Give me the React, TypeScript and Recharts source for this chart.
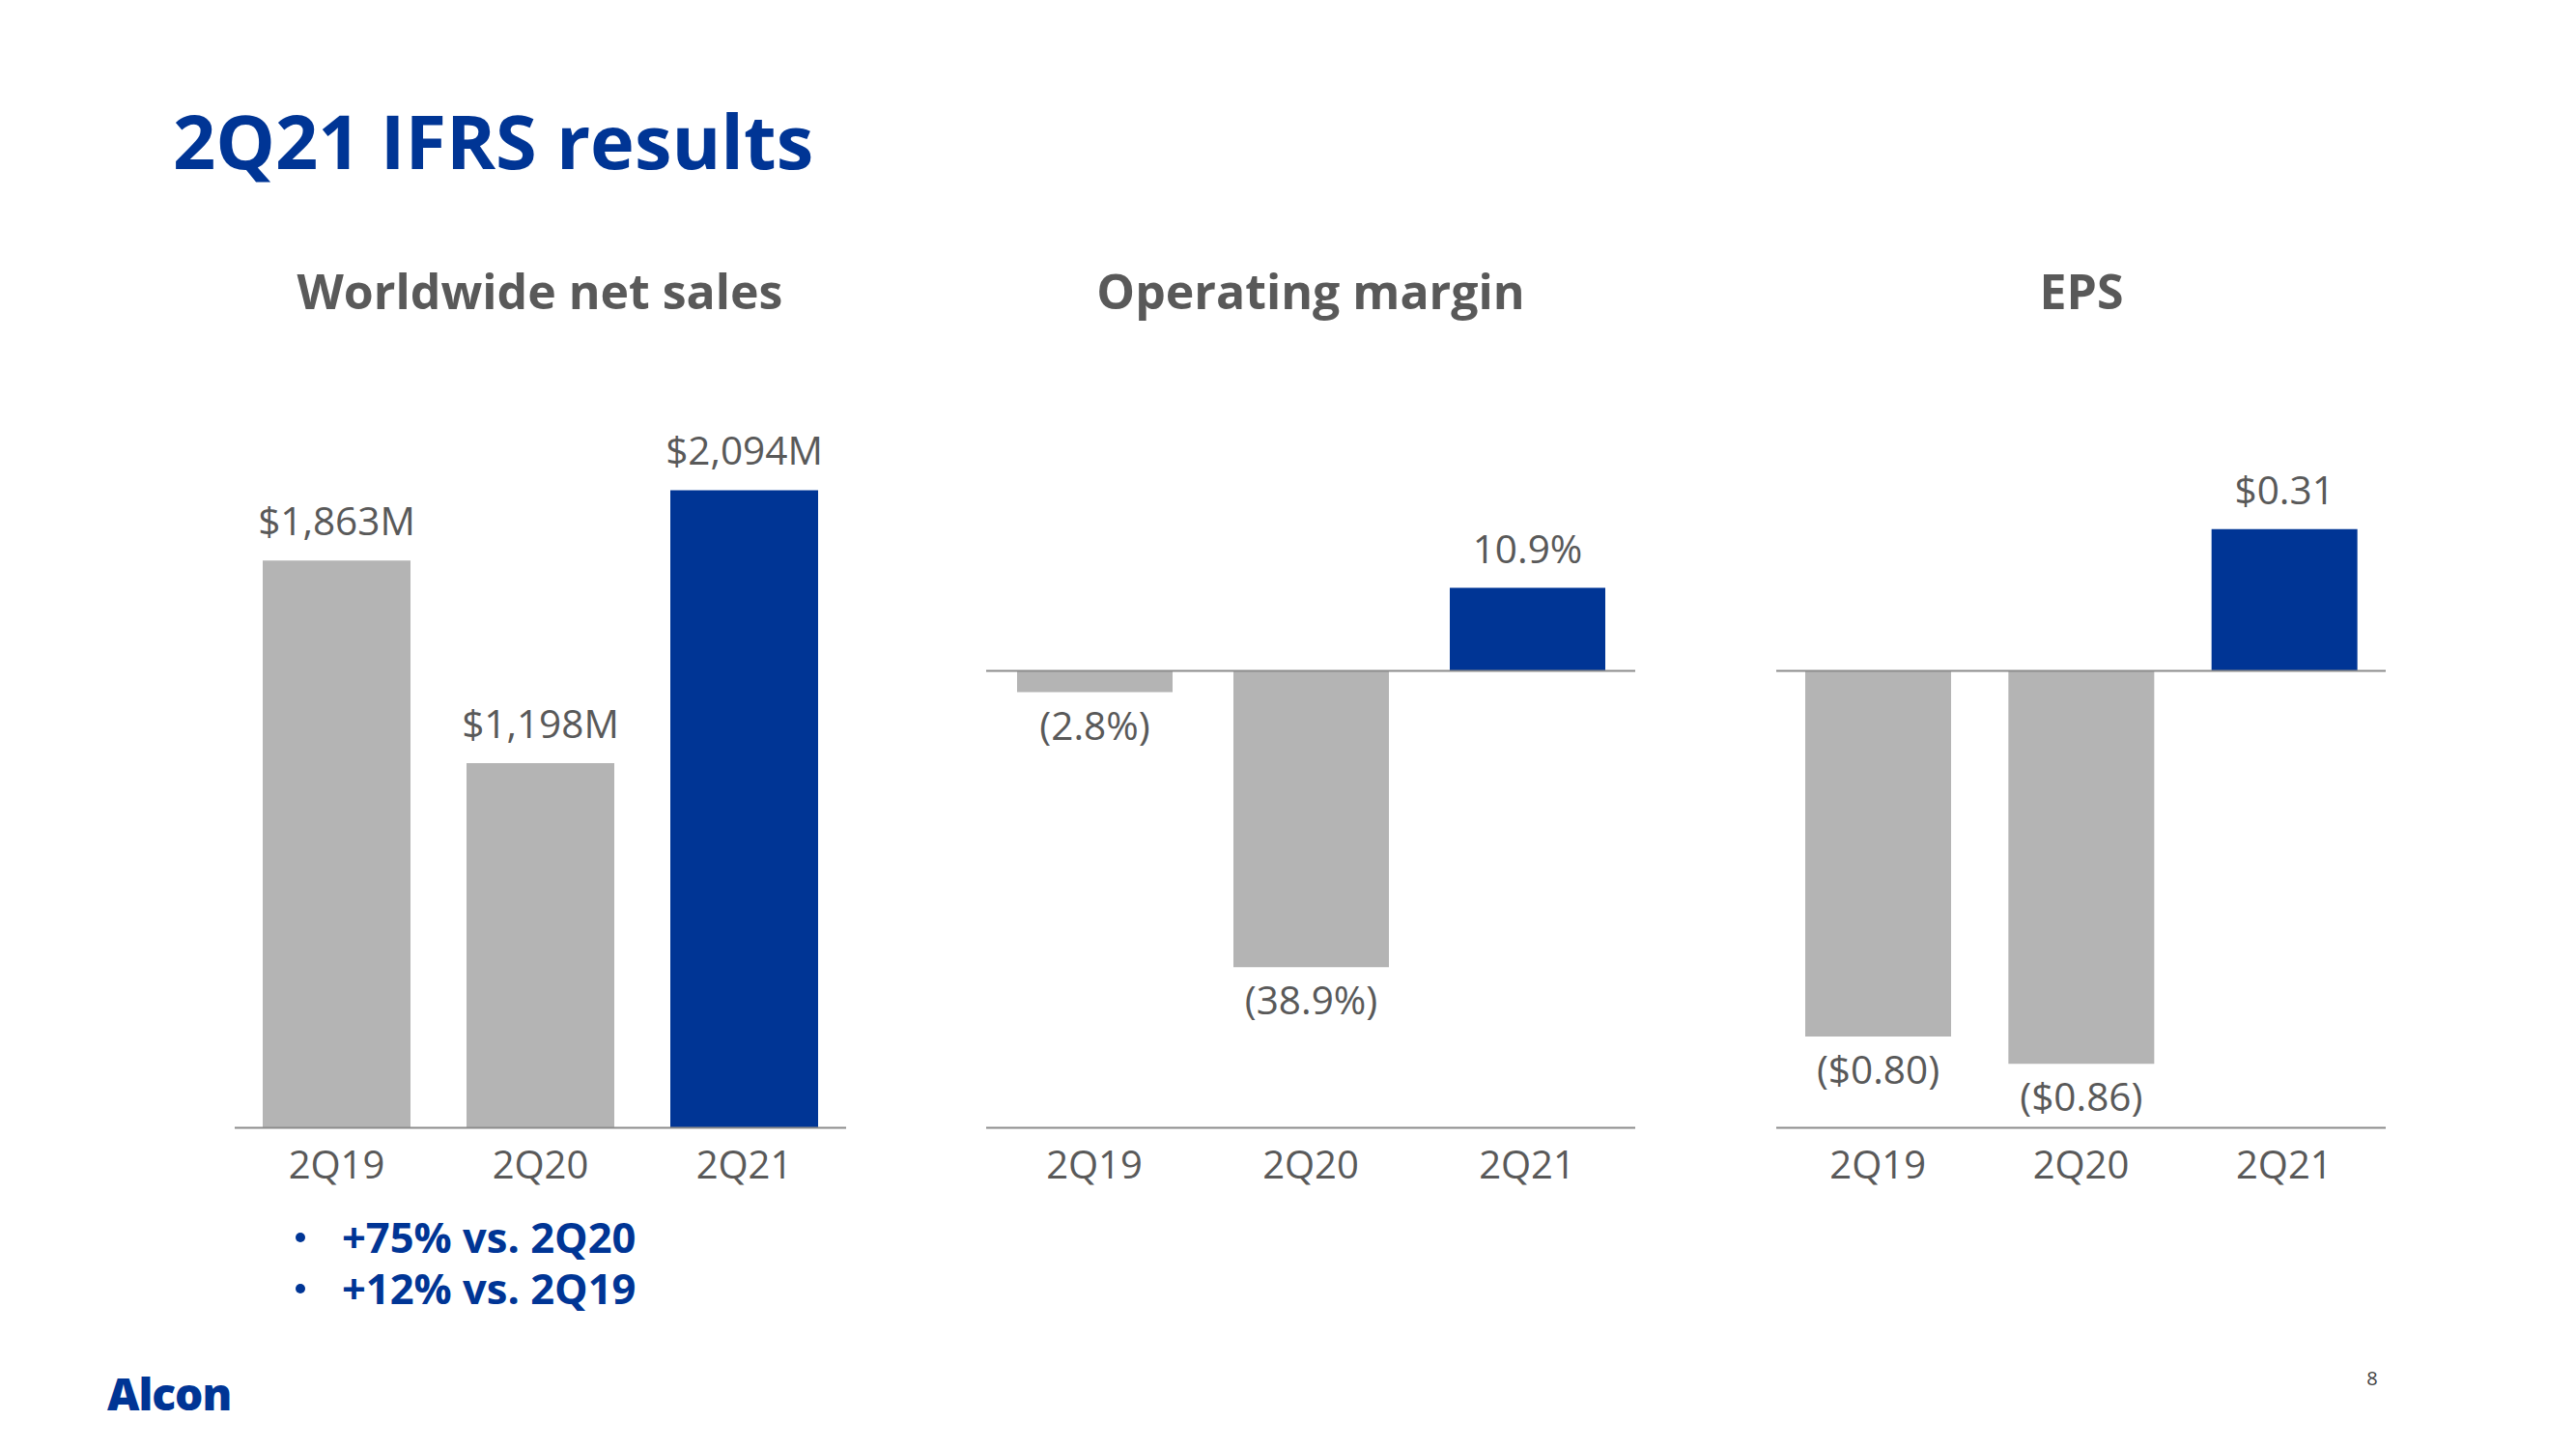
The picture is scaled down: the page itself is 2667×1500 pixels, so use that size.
import { BarChart, Bar, XAxis, YAxis, Cell, LabelList, ReferenceLine } from 'recharts'

// values
const QUARTERS = ['2Q19', '2Q20', '2Q21']
const NET_SALES = [1863, 1198, 2094] // $M
const OP_MARGIN = [-2.8, -38.9, 10.9] // %
const EPS = [-0.8, -0.86, 0.31] // $
const BULLETS = ['+75% vs. 2Q20', '+12% vs. 2Q19']

const BLUE = '#003595'
const GREY_BAR = '#b4b4b4'
const TEXT = '#595959'
const AXIS = '#8c8c8c'
const FONT = '"Open Sans", "Noto Sans", sans-serif'

// all three panels share the same bottom axis line
const PLOT_BOTTOM = 1167
const MARGIN_TOP = 100
const AXIS_H = 90

const fmtSales = (v: number) => `$${v.toLocaleString('en-US')}M`
const fmtMargin = (v: number) => (v < 0 ? `(${Math.abs(v).toFixed(1)}%)` : `${v.toFixed(1)}%`)
const fmtEps = (v: number) => (v < 0 ? `($${Math.abs(v).toFixed(2)})` : `$${v.toFixed(2)}`)

function QuarterTick(props: any) {
  const { x, y, payload } = props
  return (
    <text x={x} y={y + 52} textAnchor="middle" fill={TEXT} fontSize={40} fontFamily={FONT}>
      {payload.value}
    </text>
  )
}

function ValueLabel(props: any) {
  const { x, y, width, height, value, format } = props
  const top = Math.min(y, y + height)
  const bottom = Math.max(y, y + height)
  const ty = value < 0 ? bottom + 49 : top - 26
  return (
    <text x={x + width / 2} y={ty} textAnchor="middle" fill={TEXT} fontSize={40.5} fontFamily={FONT}>
      {format(value)}
    </text>
  )
}

interface PanelProps {
  values: number[]
  domain: [number, number]
  left: number
  width: number
  plotHeight: number
  barSize: number
  format: (v: number) => string
  zeroLine?: boolean
}

function Panel({ values, domain, left, width, plotHeight, barSize, format, zeroLine }: PanelProps) {
  const data = QUARTERS.map((q, i) => ({ quarter: q, value: values[i] }))
  const top = PLOT_BOTTOM - plotHeight - MARGIN_TOP
  return (
    <div style={{ position: 'absolute', left, top }}>
      <BarChart
        width={width}
        height={MARGIN_TOP + plotHeight + AXIS_H}
        data={data}
        margin={{ top: MARGIN_TOP, right: 0, bottom: 0, left: 0 }}
      >
        <XAxis
          dataKey="quarter"
          height={AXIS_H}
          interval={0}
          tickLine={false}
          tickSize={0}
          tickMargin={0}
          axisLine={{ stroke: AXIS, strokeWidth: 2 }}
          tick={QuarterTick}
        />
        <YAxis hide type="number" domain={domain} allowDataOverflow />
        <Bar dataKey="value" barSize={barSize} isAnimationActive={false}>
          {data.map((d, i) => (
            <Cell key={d.quarter} fill={i === data.length - 1 ? BLUE : GREY_BAR} />
          ))}
          <LabelList dataKey="value" content={(p: any) => <ValueLabel {...p} format={format} />} />
        </Bar>
        {zeroLine && <ReferenceLine y={0} stroke={AXIS} strokeWidth={2} />}
      </BarChart>
    </div>
  )
}

export default function App() {
  return (
    <div
      style={{
        position: 'absolute',
        left: 0,
        top: 0,
        width: 2667,
        height: 1500,
        background: '#fff',
        overflow: 'hidden',
        fontFamily: FONT,
      }}
    >
      <svg width={2667} height={1500} style={{ position: 'absolute', left: 0, top: 0 }}>
        <text x={179} y={175} fill={BLUE} fontSize={77.5} fontWeight={700} fontFamily={FONT}>
          2Q21 IFRS results
        </text>
        <g fill={TEXT} fontSize={50} fontWeight={700} fontFamily={FONT} textAnchor="middle">
          <text x={559} y={320}>Worldwide net sales</text>
          <text x={1357} y={320}>Operating margin</text>
          <text x={2155} y={320}>EPS</text>
        </g>
        {BULLETS.map((b, i) => (
          <g key={b}>
            <circle cx={311} cy={1281 + i * 53} r={5} fill={BLUE} />
            <text x={354} y={1297 + i * 53} fill={BLUE} fontSize={43.5} fontWeight={700} fontFamily={FONT}>
              {b}
            </text>
          </g>
        ))}
        <text x={111} y={1460} fill={BLUE} fontSize={46} fontWeight={800} fontFamily={FONT} letterSpacing={-1}>
          Alcon
        </text>
        <text x={2456} y={1434} fill="#404040" fontSize={20} textAnchor="middle" fontFamily={FONT}>
          8
        </text>
      </svg>

      <Panel values={NET_SALES} domain={[0, 2400]} left={243} width={633} plotHeight={756.5} barSize={153} format={fmtSales} />
      <Panel
        values={OP_MARGIN}
        domain={[-60, 30]}
        left={1021}
        width={672}
        plotHeight={709.5}
        barSize={161}
        format={fmtMargin}
        zeroLine
      />
      <Panel values={EPS} domain={[-1, 0.5]} left={1839} width={631} plotHeight={709.5} barSize={151} format={fmtEps} zeroLine />
    </div>
  )
}
